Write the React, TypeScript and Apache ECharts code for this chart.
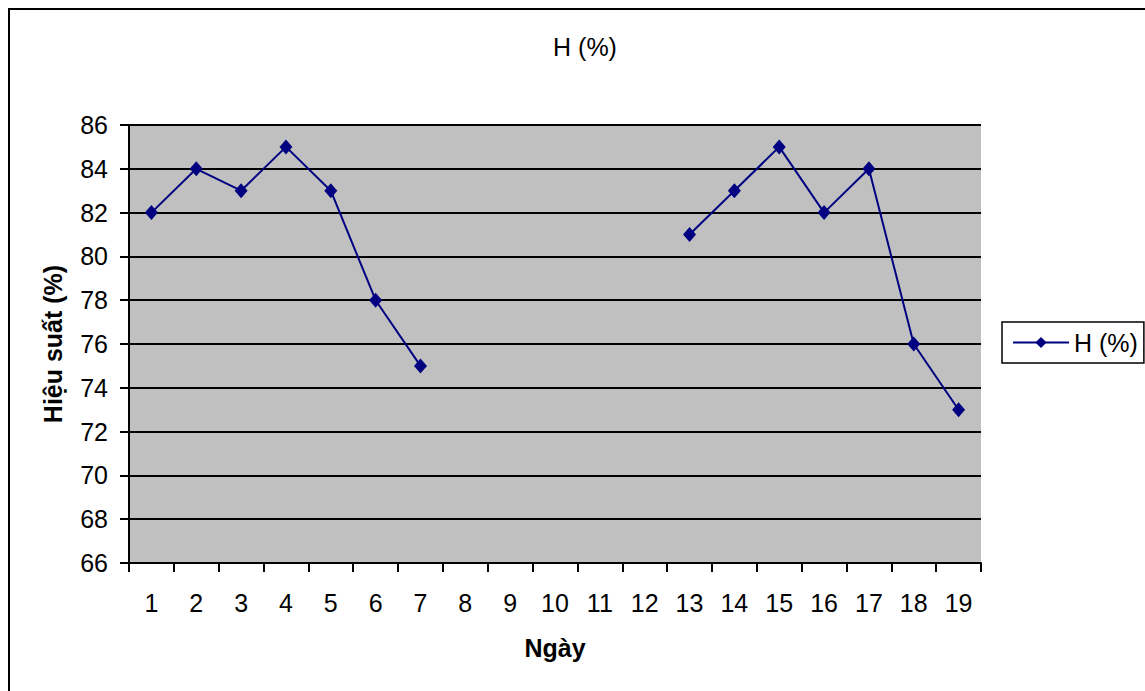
import React, { useEffect, useRef } from "react";
import * as echarts from "echarts";

const categories = ["1","2","3","4","5","6","7","8","9","10","11","12","13","14","15","16","17","18","19"];
const values: (number | null)[] = [82,84,83,85,83,78,75,null,null,null,null,null,81,83,85,82,84,76,73];
const seriesName = "H (%)";

export default function App() {
  const ref = useRef<HTMLDivElement>(null);
  useEffect(() => {
    const chart = echarts.init(ref.current!, undefined, { renderer: "svg" });
    const font = "'Liberation Sans', Arial, sans-serif";
    const fs = 25;
    chart.setOption({
      animation: false,
      backgroundColor: "#ffffff",
      textStyle: { fontFamily: font },
      title: {
        text: "H (%)",
        left: 580,
        top: 29,
        textAlign: "center",
        textStyle: { fontFamily: font, fontSize: fs, fontWeight: "normal", color: "#000" },
      },
      graphic: [
        {
          type: "rect",
          shape: { x: 9, y: 9, width: 1150, height: 700 },
          style: { fill: "none", stroke: "#000", lineWidth: 2 },
          silent: true,
        },
      ],
      legend: {
        orient: "vertical",
        left: 1002,
        top: 322,
        padding: [8, 6, 8, 10],
        borderColor: "#000",
        borderWidth: 1.5,
        itemWidth: 56,
        itemHeight: 14,
        itemGap: 4,
        textStyle: { fontFamily: font, fontSize: fs, color: "#000", padding: [0, 0, 0, 0] },
        data: [seriesName],
      },
      grid: { left: 129, right: 1145 - 981, top: 125, bottom: 691 - 563, containLabel: false },
      xAxis: {
        type: "category",
        data: categories,
        boundaryGap: true,
        name: "Ngày",
        nameLocation: "middle",
        nameGap: 72,
        nameTextStyle: { fontFamily: font, fontSize: fs, fontWeight: "bold", color: "#000" },
        axisLine: { show: true, lineStyle: { color: "#000", width: 2 } },
        axisTick: { show: true, alignWithLabel: false, length: 9, lineStyle: { color: "#000", width: 2 } },
        axisLabel: { fontFamily: font, fontSize: fs, color: "#000", margin: 27, interval: 0 },
        splitLine: { show: false },
      },
      yAxis: {
        type: "value",
        min: 66,
        max: 86,
        interval: 2,
        name: "Hiệu suất (%)",
        nameLocation: "middle",
        nameGap: 64,
        nameRotate: 90,
        nameTextStyle: { fontFamily: font, fontSize: fs, fontWeight: "bold", color: "#000" },
        axisLine: { show: true, lineStyle: { color: "#000", width: 2 } },
        axisTick: { show: true, length: 9, lineStyle: { color: "#000", width: 2 } },
        axisLabel: { fontFamily: font, fontSize: fs, color: "#000", margin: 21 },
        splitLine: { show: true, lineStyle: { color: "#000", width: 2 } },
        splitArea: { show: true, areaStyle: { color: ["#c0c0c0", "#c0c0c0"] } },
      },
      series: [
        {
          name: seriesName,
          type: "line",
          data: values,
          connectNulls: false,
          symbol: "diamond",
          symbolSize: [13, 15],
          lineStyle: { color: "#000080", width: 2 },
          itemStyle: { color: "#000080" },
        },
      ],
    });
    return () => chart.dispose();
  }, []);
  return (
    <div
      ref={ref}
      style={{ position: "fixed", left: 0, top: 0, width: 1145, height: 691 }}
    />
  );
}
